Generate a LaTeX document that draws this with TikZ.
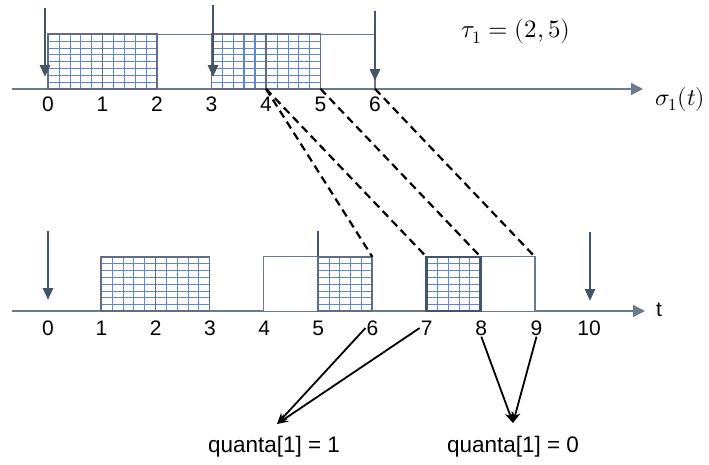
\documentclass[tikz,border=0pt]{standalone}
\usepackage{fontspec}
\usepackage{unicode-math}
\setmainfont{Liberation Sans}
\setmathfont{Latin Modern Math}
\usetikzlibrary{arrows.meta, calc}

\definecolor{slate}{HTML}{44546A}
\definecolor{axisgray}{HTML}{6B7A8C}
\definecolor{cellblue}{HTML}{4472C4}

% blue cells inside a slot: 5 columns, 8 rows
\newcommand{\cellgrid}[2][0.6pt]{%
    \foreach \k in {1,...,4}
        \draw[cellblue!85, line width=#1]
            ($(#2.south west)!\k/5!(#2.south east)$) --
            ($(#2.north west)!\k/5!(#2.north east)$);
    \foreach \k in {1,...,7}
        \draw[cellblue!85, line width=0.6pt]
            ($(#2.south west)!\k/8!(#2.north west)$) --
            ($(#2.south east)!\k/8!(#2.north east)$);
    \draw[slate!85, line width=1.6pt] (#2.south west) rectangle (#2.north east);}

\begin{document}
\begin{tikzpicture}[x=1pt, y=-1pt,
    slot/.style={draw=axisgray, line width=1.4pt, fill=white,
        minimum width=54.3pt, minimum height=54.5pt, inner sep=0pt,
        outer sep=0pt},
    ticklabel/.style={font=\fontsize{21pt}{24pt}\selectfont, inner sep=1pt},
    timeaxis/.style={draw=axisgray, line width=1.6pt,
        -{Triangle[length=12pt, width=12pt]}},
    release/.style={draw=slate, line width=2.8pt,
        -{Triangle[length=12pt, width=10pt]}},
    mapping/.style={draw=black, line width=2.2pt, dash pattern=on 8pt off 5pt},
    pointer/.style={draw=black, line width=1.8pt,
        -{Stealth[length=11pt, width=9pt]}},
    result/.style={font=\fontsize{22.5pt}{26pt}\selectfont, inner sep=0pt}
]
    \useasboundingbox (0,0) rectangle (709,464);

    % sigma axis
    \coordinate (sstart) at (12,89);
    \coordinate (send) at (643,89);
    \draw[timeaxis] (sstart) -- (send);

    % t axis
    \coordinate (tstart) at (12,311);
    \coordinate (tend) at (645,311);
    \draw[timeaxis] (tstart) -- (tend);

    % release hidden by the slot at 5
    \coordinate (rb5s) at (318,231);
    \coordinate (rb5e) at (318,291);
    \draw[release] (rb5s) -- (rb5e);

    % slots on sigma
    \node[slot] (a01) at (75.25,61.5) {};
    \node[slot] (a12) at (129.75,61.5) {};
    \node[slot] (a23) at (184.25,61.5) {};
    \node[slot] (a34) at (238.75,61.5) {};
    \node[slot] (a45) at (293.25,61.5) {};
    \node[slot] (a56) at (347.75,61.5) {};
    \cellgrid{a01}
    \cellgrid{a12}
    \cellgrid[1.4pt]{a34}
    \cellgrid{a45}

    % slots on t
    \node[slot] (b12) at (128.3,284) {};
    \node[slot] (b23) at (182.5,284) {};
    \node[slot] (b45) at (290.9,284) {};
    \node[slot] (b56) at (345.1,284) {};
    \node[slot] (b78) at (453.5,284) {};
    \node[slot] (b89) at (507.7,284) {};
    \cellgrid{b12}
    \cellgrid{b23}
    \cellgrid{b56}
    \cellgrid{b78}
    \draw[slate, line width=2.4pt] (b78.south west) rectangle (b78.north east);

    % releases
    \coordinate (ra0s) at (45,8);
    \coordinate (ra0e) at (45,77);
    \coordinate (ra3s) at (213,5);
    \coordinate (ra3e) at (213,77);
    \coordinate (ra6s) at (375,11);
    \coordinate (ra6e) at (375,81);
    \coordinate (rb0s) at (48,231);
    \coordinate (rb0e) at (48,300);
    \coordinate (rb10s) at (590,232);
    \coordinate (rb10e) at (590,301);
    \draw[release] (ra0s) -- (ra0e);
    \draw[release] (ra3s) -- (ra3e);
    \draw[release] (ra6s) -- (ra6e);
    \draw[release] (rb0s) -- (rb0e);
    \draw[release] (rb10s) -- (rb10e);

    % tick labels
    \node[ticklabel] (s0) at (48,104) {0};
    \node[ticklabel] (s1) at (102.5,104) {1};
    \node[ticklabel] (s2) at (157,104) {2};
    \node[ticklabel] (s3) at (211.5,104) {3};
    \node[ticklabel] (s4) at (266,104) {4};
    \node[ticklabel] (s5) at (320.5,104) {5};
    \node[ticklabel] (s6) at (375,104) {6};

    \node[ticklabel] (t0) at (48,328) {0};
    \node[ticklabel] (t1) at (101.5,328) {1};
    \node[ticklabel] (t2) at (155.7,328) {2};
    \node[ticklabel] (t3) at (209.9,328) {3};
    \node[ticklabel] (t4) at (264.1,328) {4};
    \node[ticklabel] (t5) at (318.3,328) {5};
    \node[ticklabel] (t6) at (372.5,328) {6};
    \node[ticklabel] (t7) at (426.7,328) {7};
    \node[ticklabel] (t8) at (481.3,328) {8};
    \node[ticklabel] (t9) at (536.5,328) {9};
    \node[ticklabel] (t10) at (589,328) {10};

    \node[ticklabel, anchor=west, font=\fontsize{24pt}{28pt}\selectfont]
        (sigma) at (654,99) {$\sigma_1(t)$};
    \node[ticklabel, anchor=west] (tlabel) at (655,310) {t};
    \node[ticklabel, font=\fontsize{25pt}{30pt}\selectfont] (tau) at (516,31)
        {$\tau_1 = (2,5)$};

    % sigma to t
    \draw[mapping] (a34.south east) -- (b56.north east);
    \draw[mapping] (a34.south east) -- (b78.north west);
    \draw[mapping] (a45.south east) -- (b89.north west);
    \draw[mapping] (a56.south east) -- (b89.north east);

    % quanta
    \node[result] (q1) at (274,447) {quanta[1] = 1};
    \node[result] (q0) at (513,447) {quanta[1] = 0};
    \coordinate (q1tip) at (277,424);
    \coordinate (q0tip) at (513,423);
    \draw[pointer] (t6.west) -- (q1tip);
    \draw[pointer] (t7.west) -- (q1tip);
    \draw[pointer] (t8.south) -- (q0tip);
    \draw[pointer] (t9.south) -- (q0tip);
\end{tikzpicture}
\end{document}
